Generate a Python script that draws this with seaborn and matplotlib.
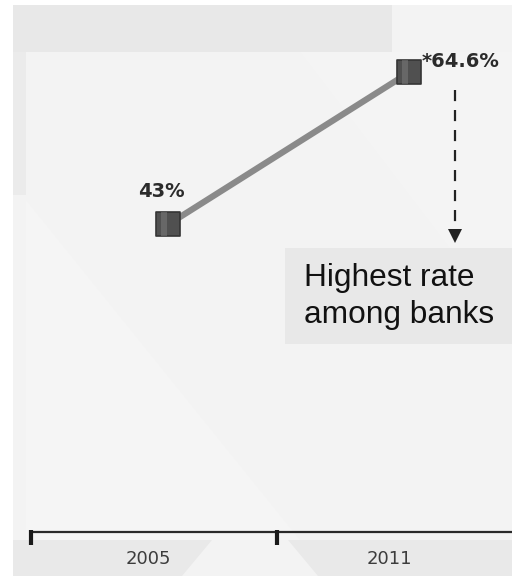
import numpy as np
import matplotlib
matplotlib.use('Agg')
import matplotlib.pyplot as plt
import seaborn as sns
from matplotlib.patches import Polygon

# ---- data ----
years = ['2005', '2011']
rates = [43.0, 64.6]
value_labels = ['43%', '*64.6%']
note_text = 'Highest rate\namong banks'

sns.set_theme(style='white')
plt.rcParams['font.family'] = ['DejaVu Sans']

W, H = 512, 579
fig = plt.figure(figsize=(W / 100, H / 100), dpi=100)
fig.patch.set_facecolor('white')
ax = fig.add_axes([0, 0, 1, 1])

# pixel <-> data mapping
X0, XS = 148, 241
Y0, YS = 527, 7.04
def dx(p):
    return (p - X0) / XS
def dy(p):
    return (Y0 - p) / YS
ax.set_xlim(dx(0), dx(W))
ax.set_ylim(dy(H), dy(0))
ax.axis('off')

def fpoly(pts, color, z=0):
    verts = [(x / W, 1 - y / H) for x, y in pts]
    p = Polygon(verts, closed=True, facecolor=color, edgecolor='none',
                transform=fig.transFigure, zorder=z)
    fig.add_artist(p)

# background panels
fpoly([(13, 5), (512, 5), (512, 576), (13, 576)], '#f3f3f3', 0)
fpoly([(26, 200), (26, 540), (300, 540)], '#f5f5f5', 0)
fpoly([(300, 52), (512, 52), (512, 330)], '#f4f4f4', 0)
fpoly([(13, 5), (392, 5), (392, 52), (13, 52)], '#e8e8e8', 0)
fpoly([(13, 52), (26, 52), (26, 195), (13, 195)], '#ebebeb', 0)
fpoly([(13, 540), (512, 540), (512, 576), (13, 576)], '#e9e9e9', 0)
fpoly([(182, 576), (212, 540), (288, 540), (318, 576)], '#f3f3f3', 0)
# note box
fpoly([(285, 248), (512, 248), (512, 344), (285, 344)], '#e8e8e8', 0)

xpos = np.arange(len(years)) + 0.085

# connecting line and markers
sns.lineplot(x=xpos, y=rates, color='#8a8a8a', linewidth=4.5, ax=ax, zorder=3)
ms = 17
sns.scatterplot(x=xpos, y=rates, marker='s', s=ms ** 2, color='#505050',
                edgecolor='#353535', linewidth=1.2, ax=ax, zorder=4)
stripe = [(-0.5, -0.85), (-0.05, -0.85), (-0.05, 0.85), (-0.5, 0.85)]
ax.scatter(xpos, rates, marker=stripe, s=ms ** 2, color='#7a7a7a',
           linewidth=0, zorder=5, alpha=0.55)

# value labels
ax.annotate(value_labels[0], (xpos[0], rates[0]), xytext=(-7, 27),
            textcoords='offset pixels', ha='center', va='baseline',
            fontsize=14, fontweight='bold', color='#2b2b2b', zorder=6)
ax.annotate(value_labels[1], (xpos[1], rates[1]), xytext=(12, 5),
            textcoords='offset pixels', ha='left', va='baseline',
            fontsize=14, fontweight='bold', color='#2b2b2b', zorder=6)

# dashed arrow
xa = dx(455)
ax.plot([xa, xa], [dy(90), dy(230)], color='#222222', linewidth=1.6,
        linestyle=(0, (5, 4)), zorder=5)
ax.plot([xa], [dy(236)], marker='v', markersize=10, color='#222222',
        markeredgewidth=0, zorder=5)

# note text
ax.text(dx(304), dy(263), note_text, ha='left', va='top', fontsize=22.8,
        family=['Liberation Sans', 'DejaVu Sans'], color='#111111',
        linespacing=1.3, zorder=6)

# baseline axis
yb = dy(531.5)
ax.plot([dx(31), dx(512)], [yb, yb], color='#2a2a2a', linewidth=1.6,
        solid_capstyle='butt', zorder=5)
for bx in (dx(31), dx(277)):
    ax.plot([bx, bx], [dy(530), dy(545)], color='#1a1a1a', linewidth=3,
            solid_capstyle='butt', zorder=5)
for i, yr in enumerate(years):
    ax.text(i, dy(559), yr, ha='center', va='center', fontsize=13,
            color='#3c3c3c', zorder=6)

fig.savefig('out.png', dpi=100, facecolor='white')
